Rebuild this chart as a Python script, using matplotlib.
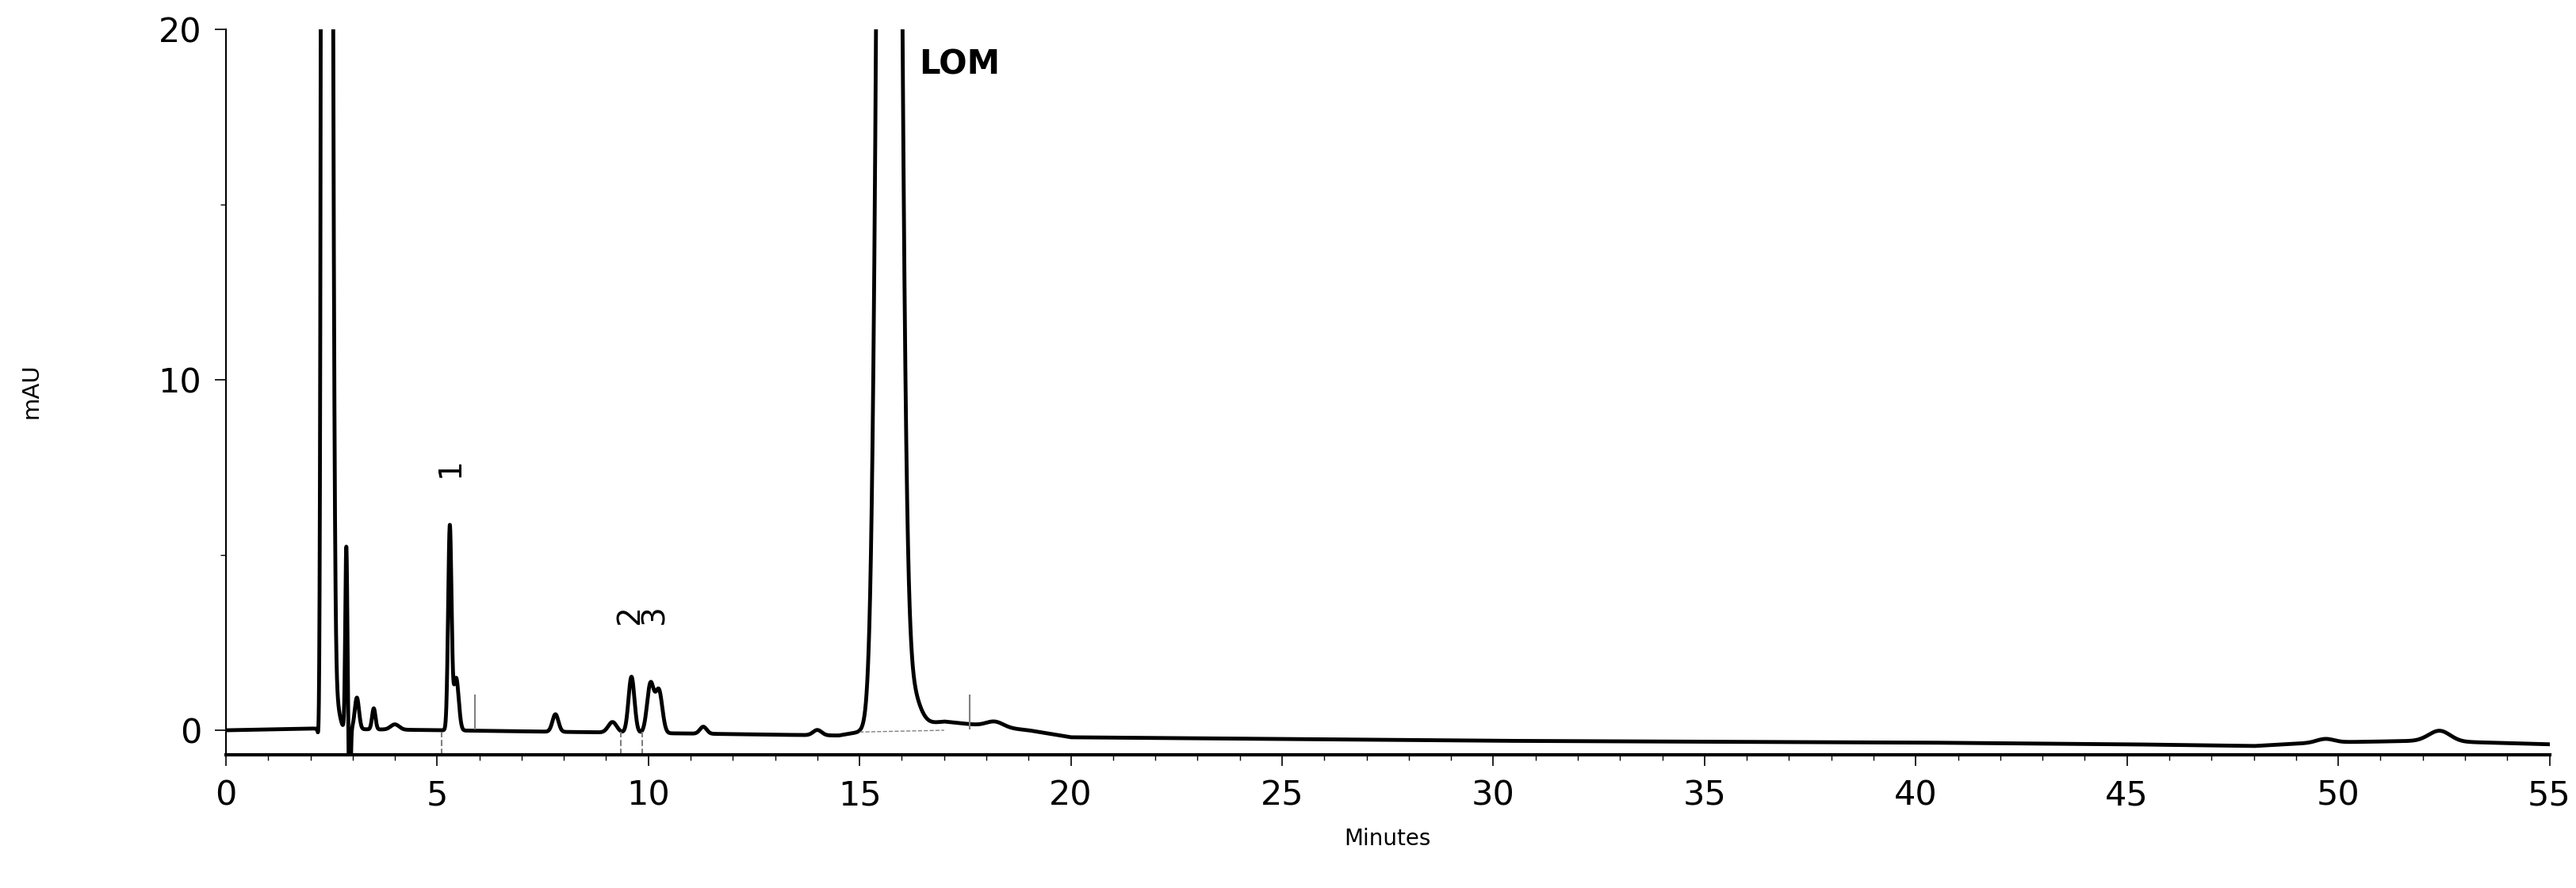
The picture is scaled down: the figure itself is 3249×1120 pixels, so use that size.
import numpy as np
import matplotlib
matplotlib.use("Agg")
import matplotlib.pyplot as plt

# baseline anchor points (minutes, mAU)
base_t = [0, 2.0, 14.5, 15.0, 17.0, 19.0, 20, 30, 40, 45, 48, 49.5, 52, 55]
base_v = [0.0, 0.05, -0.15, -0.05, 0.25, 0.0, -0.2, -0.3, -0.35, -0.4, -0.45, -0.35, -0.3, -0.4]
# peaks: retention time, height, width (sigma)
peak_t = [2.2, 2.32, 2.45, 2.6, 2.85, 2.93, 3.1, 3.5, 4.0, 5.3, 5.45, 7.8, 9.15, 9.6, 10.05, 10.25, 11.3, 14.0, 15.7, 16.2, 18.2, 49.7, 52.4]
peak_h = [-0.6, 120.0, 60.0, 0.8, 5.2, -3.0, 0.9, 0.6, 0.15, 5.8, 1.5, 0.5, 0.3, 1.6, 1.4, 1.2, 0.2, 0.15, 90.0, 1.0, 0.15, 0.1, 0.3]
peak_w = [0.02, 0.04, 0.06, 0.08, 0.025, 0.02, 0.05, 0.04, 0.1, 0.04, 0.06, 0.07, 0.1, 0.07, 0.08, 0.08, 0.08, 0.1, 0.18, 0.2, 0.2, 0.2, 0.25]

x = np.linspace(0, 55, 20000)
y = np.interp(x, base_t, base_v)
for t, h, w in zip(peak_t, peak_h, peak_w):
    y += h * np.exp(-0.5 * ((x - t) / w) ** 2)

fig = plt.figure(figsize=(32.49, 11.2), dpi=100)
ax = fig.add_axes([0.0877, 0.15, 0.902, 0.817])
ax.plot(x, y, color="black", lw=3.5)
ax.set_xlim(0, 55)
ax.set_ylim(-0.7, 20)
ax.spines["top"].set_visible(False)
ax.spines["right"].set_visible(False)
ax.spines["left"].set_linewidth(1.5)
ax.spines["bottom"].set_linewidth(3)
ax.set_xticks(np.arange(0, 56, 5))
ax.set_xticks(np.arange(0, 56, 1), minor=True)
ax.set_yticks([0, 10, 20])
ax.set_yticks([5, 15], minor=True)
ax.tick_params(labelsize=31, length=10, width=1.2, pad=12)
ax.tick_params(which="minor", length=5, width=1)
ax.set_xlabel("Minutes", fontsize=20, labelpad=14)
fig.text(0.012, 0.56, "mAU", rotation=90, fontsize=21, ha="center", va="center")

# integration markers
for t in [5.9, 17.6]:
    ax.plot([t, t], [0.05, 1.0], color="gray", lw=1.5)
for t in [5.1, 9.35, 9.85]:
    ax.plot([t, t], [-0.7, -0.05], color="gray", lw=1.5, ls="--")
ax.plot([15.0, 17.0], [-0.05, 0.0], color="gray", lw=1, ls="--")

ax.text(5.3, 7.5, "1", rotation=90, fontsize=28, ha="center", va="center")
ax.text(9.55, 3.3, "2", rotation=90, fontsize=28, ha="center", va="center")
ax.text(10.15, 3.3, "3", rotation=90, fontsize=28, ha="center", va="center")
ax.text(16.4, 19.0, "LOM", fontsize=30, fontweight="bold", ha="left", va="center")

fig.savefig("out.png", dpi=100)
